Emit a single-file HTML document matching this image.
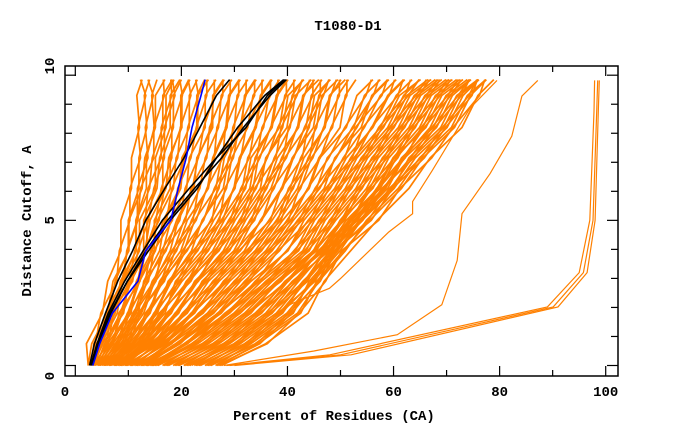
<!DOCTYPE html>
<html><head><meta charset="utf-8"><style>
html,body{margin:0;padding:0;background:#fff;}
svg{display:block;}
text{font-family:"Liberation Mono",monospace;font-weight:bold;font-size:14px;fill:#000;}
</style></head><body>
<svg id="chart" width="680" height="440" viewBox="0 0 680 440" xmlns="http://www.w3.org/2000/svg">
<text x="348" y="30" text-anchor="middle">T1080-D1</text>
<text x="334" y="420" text-anchor="middle">Percent of Residues (CA)</text>
<text x="0" y="0" text-anchor="middle" transform="translate(31,221) rotate(-90)">Distance Cutoff, A</text>
<g id="marks"></g>
<g id="axes"></g>
<rect x="65" y="66" width="553" height="310" fill="none" stroke="#000" stroke-width="1.5"/>
</svg>
<script>
const levels = [0,0.75,1.8,2.9,3.95,5,6.1,7.15,8.2,9.3,9.85];
const orangeCurves = [
[3,4,6,8,9.5,10.5,11.5,12.5,13,13.5,13.5],
[3,5,7,9,11,12,13.5,15,16,17,17.8],
[4,6,8,11,13,14,16,17,18,19,19.5],
[4,7,10,12,14,16,18,19.5,21,22,22.5],
[5,8,11,14,16,18.5,20.5,22,24,25,26],
[5,9,12,15,18,21,23,25,26.5,28,29],
[6,10,13,17,20,23,26,28,29.5,31,32],
[6,11,15,18,22,26,28,30,32,34,35],
[7,12,16,20,24,28,31,33,35,37,38],
[8,13,17,22,26,30,33,35,38,40,41],
[8,14,19,23,28,32,35,38,40,42,44],
[9,15,20,25,30,34,37,40,43,45,46],
[10,16,22,27,32,37,40,43,45,47,49],
[11,17,23,29,34,39,42,45,48,50,51],
[12,18,25,31,36,41,45,48,52,55,57],
[13,20,27,33,38,43,47,51,54,58,60],
[14,21,28,35,41,45,49,53,57,61,63],
[15,23,30,37,43,47,51,55,59,63,66],
[17,25,32,39,45,49,53,57,61,65,68],
[19,27,34,40,46,51,55,59,63,67,70],
[21,29,36,42,47,52,57,61,65,69,72],
[23,31,38,44,48,53,58,62,67,71,74],
[25,33,40,45,49,54,59,64,69,73,75.5],
[27,35,42,46,50,56,61,66,71,75,77]
];
const outlierAX = [22,30.6,40.8,47.9,49.9,59.1,63.6,63.6,67.3,74.4,79.5];
const outlierAY = [0,0.95,2.13,2.66,2.98,4.6,5.23,5.65,6.72,8.86,9.82];
const outlierBX = [28,45,60.7,69.1,72,72.9,78.2,82.3,84.2,87.2];
const outlierBY = [0,0.5,1.06,2.09,3.62,5.23,6.61,7.9,9.28,9.82];
const farX1 = [29.1,50,90.1,95.8,97.6,98.3,98.5];
const farX2 = [28.5,48,89,95,97,97.8,97.9];
const farX3 = [30,52,91,96.5,98,98.6,98.8];
const farY = [0,0.37,2.02,3.2,5.0,8.75,9.82];
const blackCurves = [
[2.7,3.6,5.7,8,10.8,13.3,16.9,20.5,23.5,26.6,29.1],
[2.9,4.1,6.2,9.3,12.8,16.4,21.5,26.6,30.6,35.7,39.3],
[3.1,4.2,6.5,9.8,13.3,17.4,22.5,27.6,31.7,36.7,39.8],
[3.1,4.4,6.7,9.8,13.8,17.9,23,26.6,32.2,36.2,39.5]
];
const blueCurve = [3.3,4.6,7,11.8,13.3,18,19.4,20.9,22,23.7,24.5];
const xTicks = [0,20,40,60,80,100];
const xMinorTicks = [10,30,50,70,90];
const xTickLabels = ["0","20","40","60","80","100"];
const yTicks = [0,1,2,3,4,5,6,7,8,9,10];
const yTickLabels = {0:"0",5:"5",10:"10"};

const NS = "http://www.w3.org/2000/svg";
function xs(v){return 75.3 + 5.304*v;}
function ys(v){return 365.5 - 29.03*v;}
const marks = document.getElementById('marks');
const axes = document.getElementById('axes');
function poly(xv, yv, color, w, name){
  const p = document.createElementNS(NS,'polyline');
  p.setAttribute('points', xv.map((x,i)=>xs(x).toFixed(1)+','+ys(yv[i]).toFixed(1)).join(' '));
  p.setAttribute('fill','none');
  p.setAttribute('stroke',color);
  p.setAttribute('stroke-width',w);
  
  
  marks.appendChild(p);
}
const OR = "#ff8000";
const variantShifts = [-1.4,-0.7,0,0.7,1.4];
orangeCurves.forEach((c,i)=>{
  variantShifts.forEach((s,k)=>{
    const v = c.map((x,j)=> j===0 ? x + s*0.4 : x + s + (j%2 ? 0.5 : -0.5)*(k%2 ? 1 : -1));
    poly(v, levels, OR, 1.7, 'model-curve-'+(i+1)+'-'+(k+1));
  });
});
poly(outlierAX, outlierAY, OR, 1.2, 'outlier-curve-a');
poly(outlierBX, outlierBY, OR, 1.2, 'outlier-curve-b');
poly(farX1, farY, OR, 1.2, 'far-curve-1');
poly(farX2, farY, OR, 1.2, 'far-curve-2');
poly(farX3, farY, OR, 1.2, 'far-curve-3');
blackCurves.forEach((c,i)=>poly(c, levels, "#000", 1.6, 'black-curve-'+(i+1)));
poly(blueCurve, levels, "#0000ff", 1.6, 'blue-curve');

function line(x1,y1,x2,y2,name){
  const l = document.createElementNS(NS,'line');
  l.setAttribute('x1',x1);l.setAttribute('y1',y1);l.setAttribute('x2',x2);l.setAttribute('y2',y2);
  l.setAttribute('stroke','#000');l.setAttribute('stroke-width',1.2);
  
  
  axes.appendChild(l);
}
function label(x,y,t,anchor,name){
  const e = document.createElementNS(NS,'text');
  e.setAttribute('x',x);e.setAttribute('y',y);e.setAttribute('text-anchor',anchor);
  e.textContent = t;
  
  
  axes.appendChild(e);
}
xTicks.forEach((v,i)=>{
  const x = xs(v);
  line(x,376,x,366,'x-tick');
  line(x,66,x,76,'x-tick-top');
  const lx = i===0 ? 65 : x;
  label(lx,396,xTickLabels[i],'middle','x-tick-label');
});
xMinorTicks.forEach(v=>{
  const x = xs(v);
  line(x,376,x,370,'x-minor-tick');
  line(x,66,x,72,'x-minor-tick-top');
});
yTicks.forEach(v=>{
  const y = ys(v);
  const len = (v%5===0) ? 11 : 7;
  line(65,y,65+len,y,'y-tick');
  line(618,y,618-len,y,'y-tick-right');
  if(yTickLabels[v]!==undefined){
    let ly = y;
    if(v===0) ly = 376; if(v===10) ly = 66;
    const e = document.createElementNS(NS,'text');
    e.setAttribute('x',0);e.setAttribute('y',0);e.setAttribute('text-anchor','middle');
    e.setAttribute('transform','translate(54,'+ly+') rotate(-90)');
    e.textContent = yTickLabels[v];
    
    
    axes.appendChild(e);
  }
});
</script>
</body></html>
